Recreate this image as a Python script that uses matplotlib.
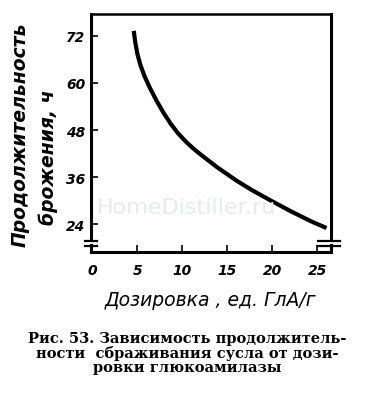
import numpy as np
import matplotlib
matplotlib.use("Agg")
import matplotlib.pyplot as plt

# --- данные ---
dose = [4.6, 4.75, 5.0, 5.35, 5.8, 6.4, 7.1, 7.9, 8.7, 9.5, 10.4, 11.2,
        12.0, 13.8, 16.0, 17.7, 19.9, 22.1, 24.3, 26.0]
hours = [73.3, 70.6, 67.4, 64.5, 61.7, 58.7, 55.6, 52.4, 49.6, 47.2, 45.0,
         43.3, 41.8, 38.6, 35.1, 32.7, 29.9, 27.2, 24.7, 23.0]
x_ticks = [0, 5, 10, 15, 20, 25]
y_ticks = [24, 36, 48, 60, 72]

W, H = 368, 414
fig = plt.figure(figsize=(W / 100, H / 100), dpi=100)

def box(l, t, r, b):
    # пиксели -> доли фигуры
    return [l / W, 1 - b / H, (r - l) / W, (b - t) / H]

tick_font = dict(family="DejaVu Sans", style="italic", weight="bold", size=10)

# основная область
ax = fig.add_axes(box(91, 15, 331, 240))
ax.set_xlim(-0.15, 26.5)
ax.set_ylim(20.2, 77.6)
ax.plot(dose, hours, color="black", lw=3.0, solid_capstyle="butt",
        solid_joinstyle="round")
ax.spines["bottom"].set_visible(False)
for s in ["left", "right"]:
    ax.spines[s].set_linewidth(2.2)
ax.spines["top"].set_linewidth(1.8)
ax.set_xticks([])
ax.set_yticks(y_ticks)
ax.set_yticklabels([str(v) for v in y_ticks], fontdict=tick_font)
ax.tick_params(axis="y", direction="in", length=5, width=1.2, pad=4)

# ось абсцисс (ниже разрыва)
axb = fig.add_axes(box(91, 246, 331, 253))
axb.set_xlim(-0.15, 26.5)
axb.set_ylim(0, 1)
axb.spines["top"].set_visible(False)
for s in ["left", "right", "bottom"]:
    axb.spines[s].set_linewidth(2.2)
axb.set_yticks([])
axb.set_xticks(x_ticks)
axb.set_xticklabels([str(v) for v in x_ticks], fontdict=tick_font)
axb.tick_params(axis="x", direction="in", length=5, width=1.2, pad=8)
axb.set_xlabel("Дозировка , ед. ГлА/г", fontsize=13.5, style="italic",
               labelpad=9)

# значки разрыва
for x0, x1 in [(85, 97), (318, 340)]:
    for y in (242, 247):
        fig.add_artist(plt.Line2D([x0 / W, x1 / W], [1 - y / H, 1 - y / H],
                                  color="black", lw=1.6))

# подпись оси ординат
fig.text(20 / W, 1 - 135 / H, "Продолжительность", rotation=90, ha="center",
         va="center", fontsize=13.5, style="italic", weight="bold")
fig.text(48 / W, 1 - 157 / H, "брожения, ч", rotation=90, ha="center",
         va="center", fontsize=13.5, style="italic", weight="bold")

# водяной знак
fig.text(97 / W, 1 - 208 / H, "HomeDistiller.ru", fontsize=16,
         color="#e3ecf3", ha="left", va="center", zorder=0)

# подпись рисунка
fig.text(187 / W, 1 - 354 / H,
         "Рис. 53. Зависимость продолжитель-\n"
         "ности  сбраживания сусла от дози-\n"
         "ровки глюкоамилазы",
         ha="center", va="center", fontsize=10.5, weight="bold",
         family="DejaVu Serif", linespacing=1.0)

fig.savefig("out.png", dpi=100)
